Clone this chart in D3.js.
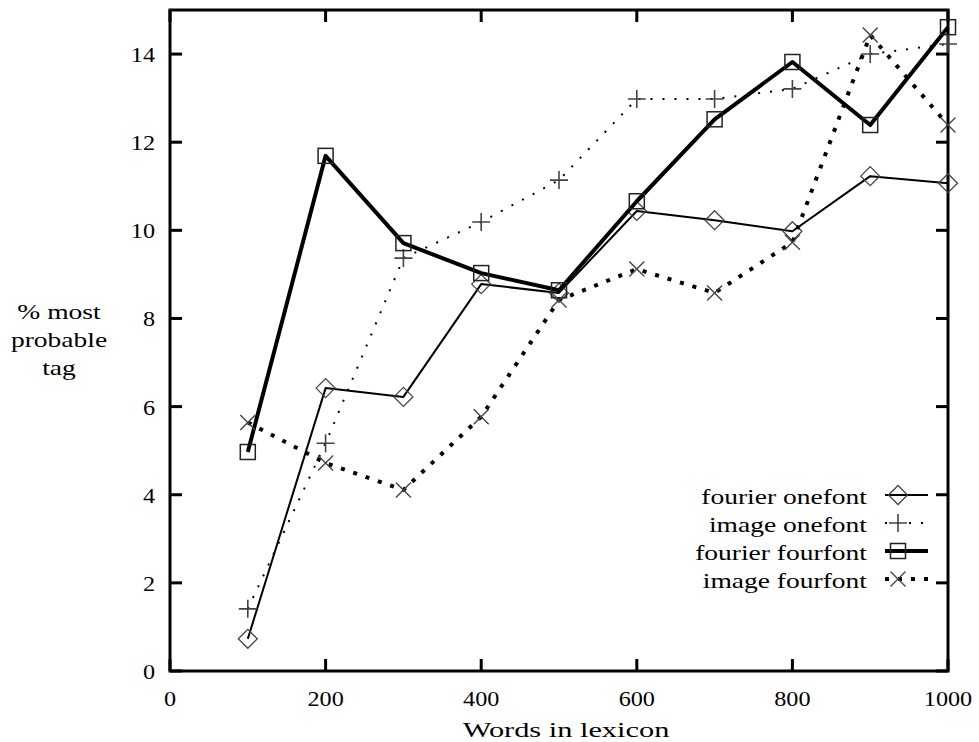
<!DOCTYPE html>
<html><head><meta charset="utf-8">
<script src="https://cdn.jsdelivr.net/npm/d3@7"></script>
<style>body{margin:0;background:#fff}svg{display:block}</style>
</head><body>
<script>
const words = [100,200,300,400,500,600,700,800,900,1000];
const fourierOnefont = [0.73,6.42,6.22,8.78,8.58,10.44,10.23,9.98,11.23,11.07];
const imageOnefont   = [1.41,5.17,9.37,10.19,11.14,12.98,12.98,13.21,14.0,14.23];
const fourierFourfont= [4.97,11.69,9.71,9.03,8.64,10.66,12.52,13.82,12.39,14.61];
const imageFourfont  = [5.64,4.72,4.11,5.77,8.42,9.12,8.58,9.73,14.43,12.39];
const xTicks = [0,200,400,600,800,1000];
const yTicks = [0,2,4,6,8,10,12,14];
const seriesNames = ["fourier onefont","image onefont","fourier fourfont","image fourfont"];

const W=979,H=742;
const svg=d3.select("body").append("svg").attr("width",W).attr("height",H);
const x=d3.scaleLinear().domain([0,1000]).range([170,948]);
const y=d3.scaleLinear().domain([0,15]).range([671,10]);
const FS=22;
const FONT="Liberation Serif";

function txt(parent,s,px,py,anchor,stretch){
  const t=parent.append("text").attr("x",px).attr("y",py).attr("text-anchor",anchor)
    .attr("font-family",FONT).attr("font-size",FS).attr("fill","#000").text(s);
  const w=t.node().getComputedTextLength();
  t.attr("textLength",w*stretch).attr("lengthAdjust","spacingAndGlyphs");
  return t;
}
const WORD=1.25, NUM=1.1, XLABEL=1.38;

const styles=[
 {data:fourierOnefont,width:2,dash:null,marker:"diamond"},
 {data:imageOnefont,width:2,dash:"2,10",marker:"plus"},
 {data:fourierFourfont,width:4,dash:null,marker:"square"},
 {data:imageFourfont,width:4,dash:"4,9",marker:"cross"}
];

function drawMarker(g,type,cx,cy){
  const c="#444";
  if(type==="diamond"){
    g.append("path").attr("d",`M${cx-9.5},${cy}L${cx},${cy-9.5}L${cx+9.5},${cy}L${cx},${cy+9.5}Z`).attr("fill","none").attr("stroke",c).attr("stroke-width",1.3);
  } else if(type==="plus"){
    g.append("path").attr("d",`M${cx-9},${cy}H${cx+9}M${cx},${cy-9}V${cy+9}`).attr("stroke",c).attr("stroke-width",1.6);
  } else if(type==="square"){
    g.append("rect").attr("x",cx-7.5).attr("y",cy-7.5).attr("width",15).attr("height",15).attr("fill","none").attr("stroke","#222").attr("stroke-width",1.5);
  } else {
    g.append("path").attr("d",`M${cx-7.5},${cy-7.5}L${cx+7.5},${cy+7.5}M${cx-7.5},${cy+7.5}L${cx+7.5},${cy-7.5}`).attr("stroke",c).attr("stroke-width",1.4);
  }
}

const frame=svg.append("g");
frame.append("rect").attr("x",x(0)).attr("y",y(15)).attr("width",x(1000)-x(0)).attr("height",y(0)-y(15)).attr("fill","none").attr("stroke","#000").attr("stroke-width",3);

xTicks.forEach(t=>{
  frame.append("line").attr("x1",x(t)).attr("x2",x(t)).attr("y1",y(0)).attr("y2",y(0)-12).attr("stroke","#000").attr("stroke-width",3);
  frame.append("line").attr("x1",x(t)).attr("x2",x(t)).attr("y1",y(15)).attr("y2",y(15)+12).attr("stroke","#000").attr("stroke-width",3);
  txt(frame,String(t),x(t),y(0)+35,"middle",NUM);
});
yTicks.forEach(t=>{
  frame.append("line").attr("x1",x(0)).attr("x2",x(0)+12).attr("y1",y(t)).attr("y2",y(t)).attr("stroke","#000").attr("stroke-width",3);
  frame.append("line").attr("x1",x(1000)).attr("x2",x(1000)-12).attr("y1",y(t)).attr("y2",y(t)).attr("stroke","#000").attr("stroke-width",3);
  txt(frame,String(t),155,y(t)+8,"end",NUM);
});

txt(svg,"Words in lexicon",566,737,"middle",XLABEL);
["% most","probable","tag"].forEach((s,i)=>txt(svg,s,59,319+i*28,"middle",WORD));

const line=d3.line().x((d,i)=>x(words[i])).y(d=>y(d));
styles.forEach(s=>{
  const g=svg.append("g");
  g.append("path").attr("d",line(s.data)).attr("fill","none").attr("stroke","#000").attr("stroke-width",s.width).attr("stroke-dasharray",s.dash).attr("stroke-linejoin","round");
  s.data.forEach((v,i)=>drawMarker(g,s.marker,x(words[i]),y(v)));
});

styles.forEach((s,i)=>{
  const ly=495+i*28;
  const g=svg.append("g");
  txt(g,seriesNames[i],867,ly+9,"end",WORD);
  g.append("line").attr("x1",885).attr("x2",928).attr("y1",ly).attr("y2",ly).attr("stroke","#000").attr("stroke-width",s.width).attr("stroke-dasharray",s.dash);
  drawMarker(g,s.marker,898,ly);
});
</script>
</body></html>
